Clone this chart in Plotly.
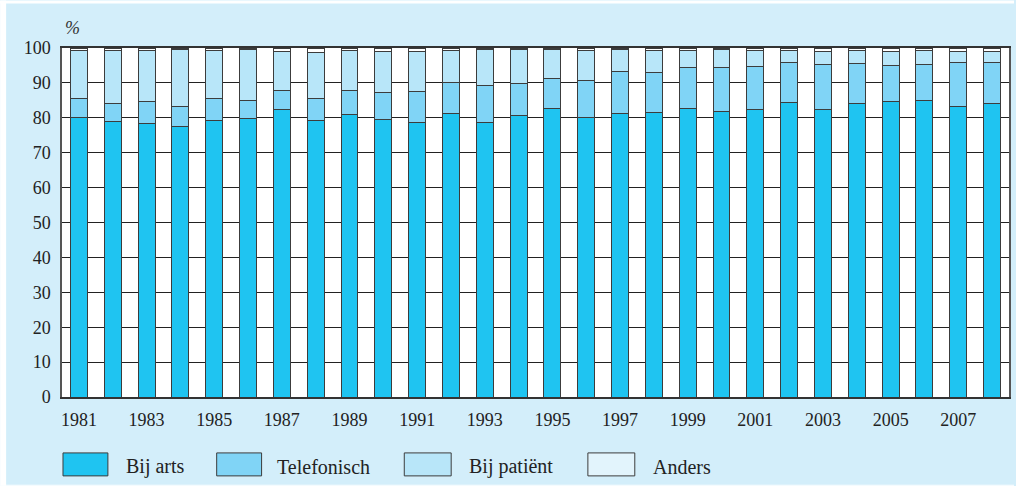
import plotly.graph_objects as go

# Share of contacts by type (%), 1981-2008
years = list(range(1981, 2009))
bij_arts = [80.2, 78.9, 78.5, 77.4, 79.2, 79.7, 82.4, 79.1, 80.9, 79.5,
            78.7, 81.3, 78.6, 80.8, 82.6, 80.2, 81.3, 81.6, 82.6, 81.8,
            82.4, 84.4, 82.4, 84.0, 84.8, 85.1, 83.2, 84.0]
telefonisch = [5.4, 5.1, 6.1, 5.8, 6.3, 5.4, 5.4, 6.5, 6.9, 7.7,
               8.8, 8.9, 10.6, 9.1, 8.8, 10.4, 12.0, 11.5, 11.7, 12.5,
               12.3, 11.5, 12.8, 11.6, 10.1, 10.1, 12.7, 11.8]
bij_patient = [13.7, 15.3, 14.6, 16.3, 13.8, 14.5, 11.3, 13.2, 11.5, 11.9,
               11.6, 9.2, 10.5, 9.6, 8.3, 8.8, 6.3, 6.1, 4.9, 5.2,
               4.6, 3.3, 3.9, 3.6, 4.0, 4.0, 3.2, 3.1]
anders = [0.7, 0.7, 0.8, 0.5, 0.7, 0.4, 0.9, 1.2, 0.7, 0.9,
          0.9, 0.6, 0.3, 0.5, 0.3, 0.6, 0.4, 0.8, 0.8, 0.5,
          0.7, 0.8, 0.9, 0.8, 1.1, 0.8, 0.9, 1.1]

series_names = ["Bij arts", "Telefonisch", "Bij patiënt", "Anders"]
series_values = [bij_arts, telefonisch, bij_patient, anders]
series_colors = ["#1fc4f1", "#80d4f6", "#b8e6f9", "#ffffff"]

tick_years = list(range(1981, 2009, 2))

W, H = 1016, 486
L, R, T, B = 62, 5, 47.5, 89
PW, PH = W - L - R, H - T - B

FONT = "'Liberation Serif', 'Times New Roman', serif"
EDGE = "#3c3c3c"
PANEL = "#d3eefa"


def px_x(x):
    return (x - L) / PW


def px_y(y):
    return (H - B - y) / PH


fig = go.Figure()
for name, vals, col in zip(series_names, series_values, series_colors):
    fig.add_trace(go.Bar(
        x=years, y=vals, name=name,
        marker=dict(color=col, line=dict(color=EDGE, width=1)),
        showlegend=False,
    ))

shapes = [
    # thin white page edges around the panel
    dict(type="rect", xref="paper", yref="paper", layer="above",
         x0=px_x(0), x1=px_x(W), y0=px_y(3), y1=px_y(0),
         fillcolor="#ffffff", line=dict(width=0)),
    dict(type="rect", xref="paper", yref="paper", layer="above",
         x0=px_x(0), x1=px_x(6), y0=px_y(H), y1=px_y(0),
         fillcolor="#ffffff", line=dict(width=0)),
    dict(type="rect", xref="paper", yref="paper", layer="above",
         x0=px_x(0), x1=px_x(W), y0=px_y(H), y1=px_y(485),
         fillcolor="#ffffff", line=dict(width=0)),
]
annotations = [
    dict(text="%", xref="paper", yref="paper", x=px_x(63), y=px_y(27),
         xanchor="left", yanchor="middle", showarrow=False,
         font=dict(family=FONT, size=18, color="#333333", style="italic")),
]

# legend swatches and labels
legend_boxes = [(63, 108), (217, 262), (405, 452), (589, 636)]
legend_text_x = [124, 275, 468, 652]
for (x0, x1), tx, name, col in zip(legend_boxes, legend_text_x,
                                   series_names, series_colors):
    shapes.append(dict(type="rect", xref="paper", yref="paper",
                       x0=px_x(x0), x1=px_x(x1), y0=px_y(476), y1=px_y(453),
                       fillcolor=col if col != "#ffffff" else "#e2f4fc",
                       line=dict(color=EDGE, width=1)))
    annotations.append(dict(text=name, xref="paper", yref="paper",
                            x=px_x(tx), y=px_y(467), xanchor="left",
                            yanchor="middle", showarrow=False,
                            font=dict(family=FONT, size=20, color="#222222")))

fig.update_layout(
    width=W, height=H,
    margin=dict(l=L, r=R, t=T, b=B, pad=0),
    barmode="stack", bargap=0.5,
    paper_bgcolor=PANEL, plot_bgcolor="#ffffff",
    font=dict(family=FONT, size=18, color="#222222"),
    shapes=shapes, annotations=annotations,
    showlegend=False,
)
fig.update_xaxes(
    range=[1980.5, 2008.5], tickvals=tick_years,
    ticktext=[str(y) for y in tick_years],
    showgrid=False, zeroline=False, ticks="",
    showline=True, linecolor="#333333", linewidth=1.5, mirror=True,
    ticklabelstandoff=6,
)
fig.update_yaxes(
    range=[0, 100], dtick=10, showgrid=True, gridcolor="#222222",
    gridwidth=1, zeroline=False, ticks="",
    showline=True, linecolor="#555555", linewidth=1.5, mirror=True,
    ticklabelstandoff=6,
)

fig.write_html("out.html")
